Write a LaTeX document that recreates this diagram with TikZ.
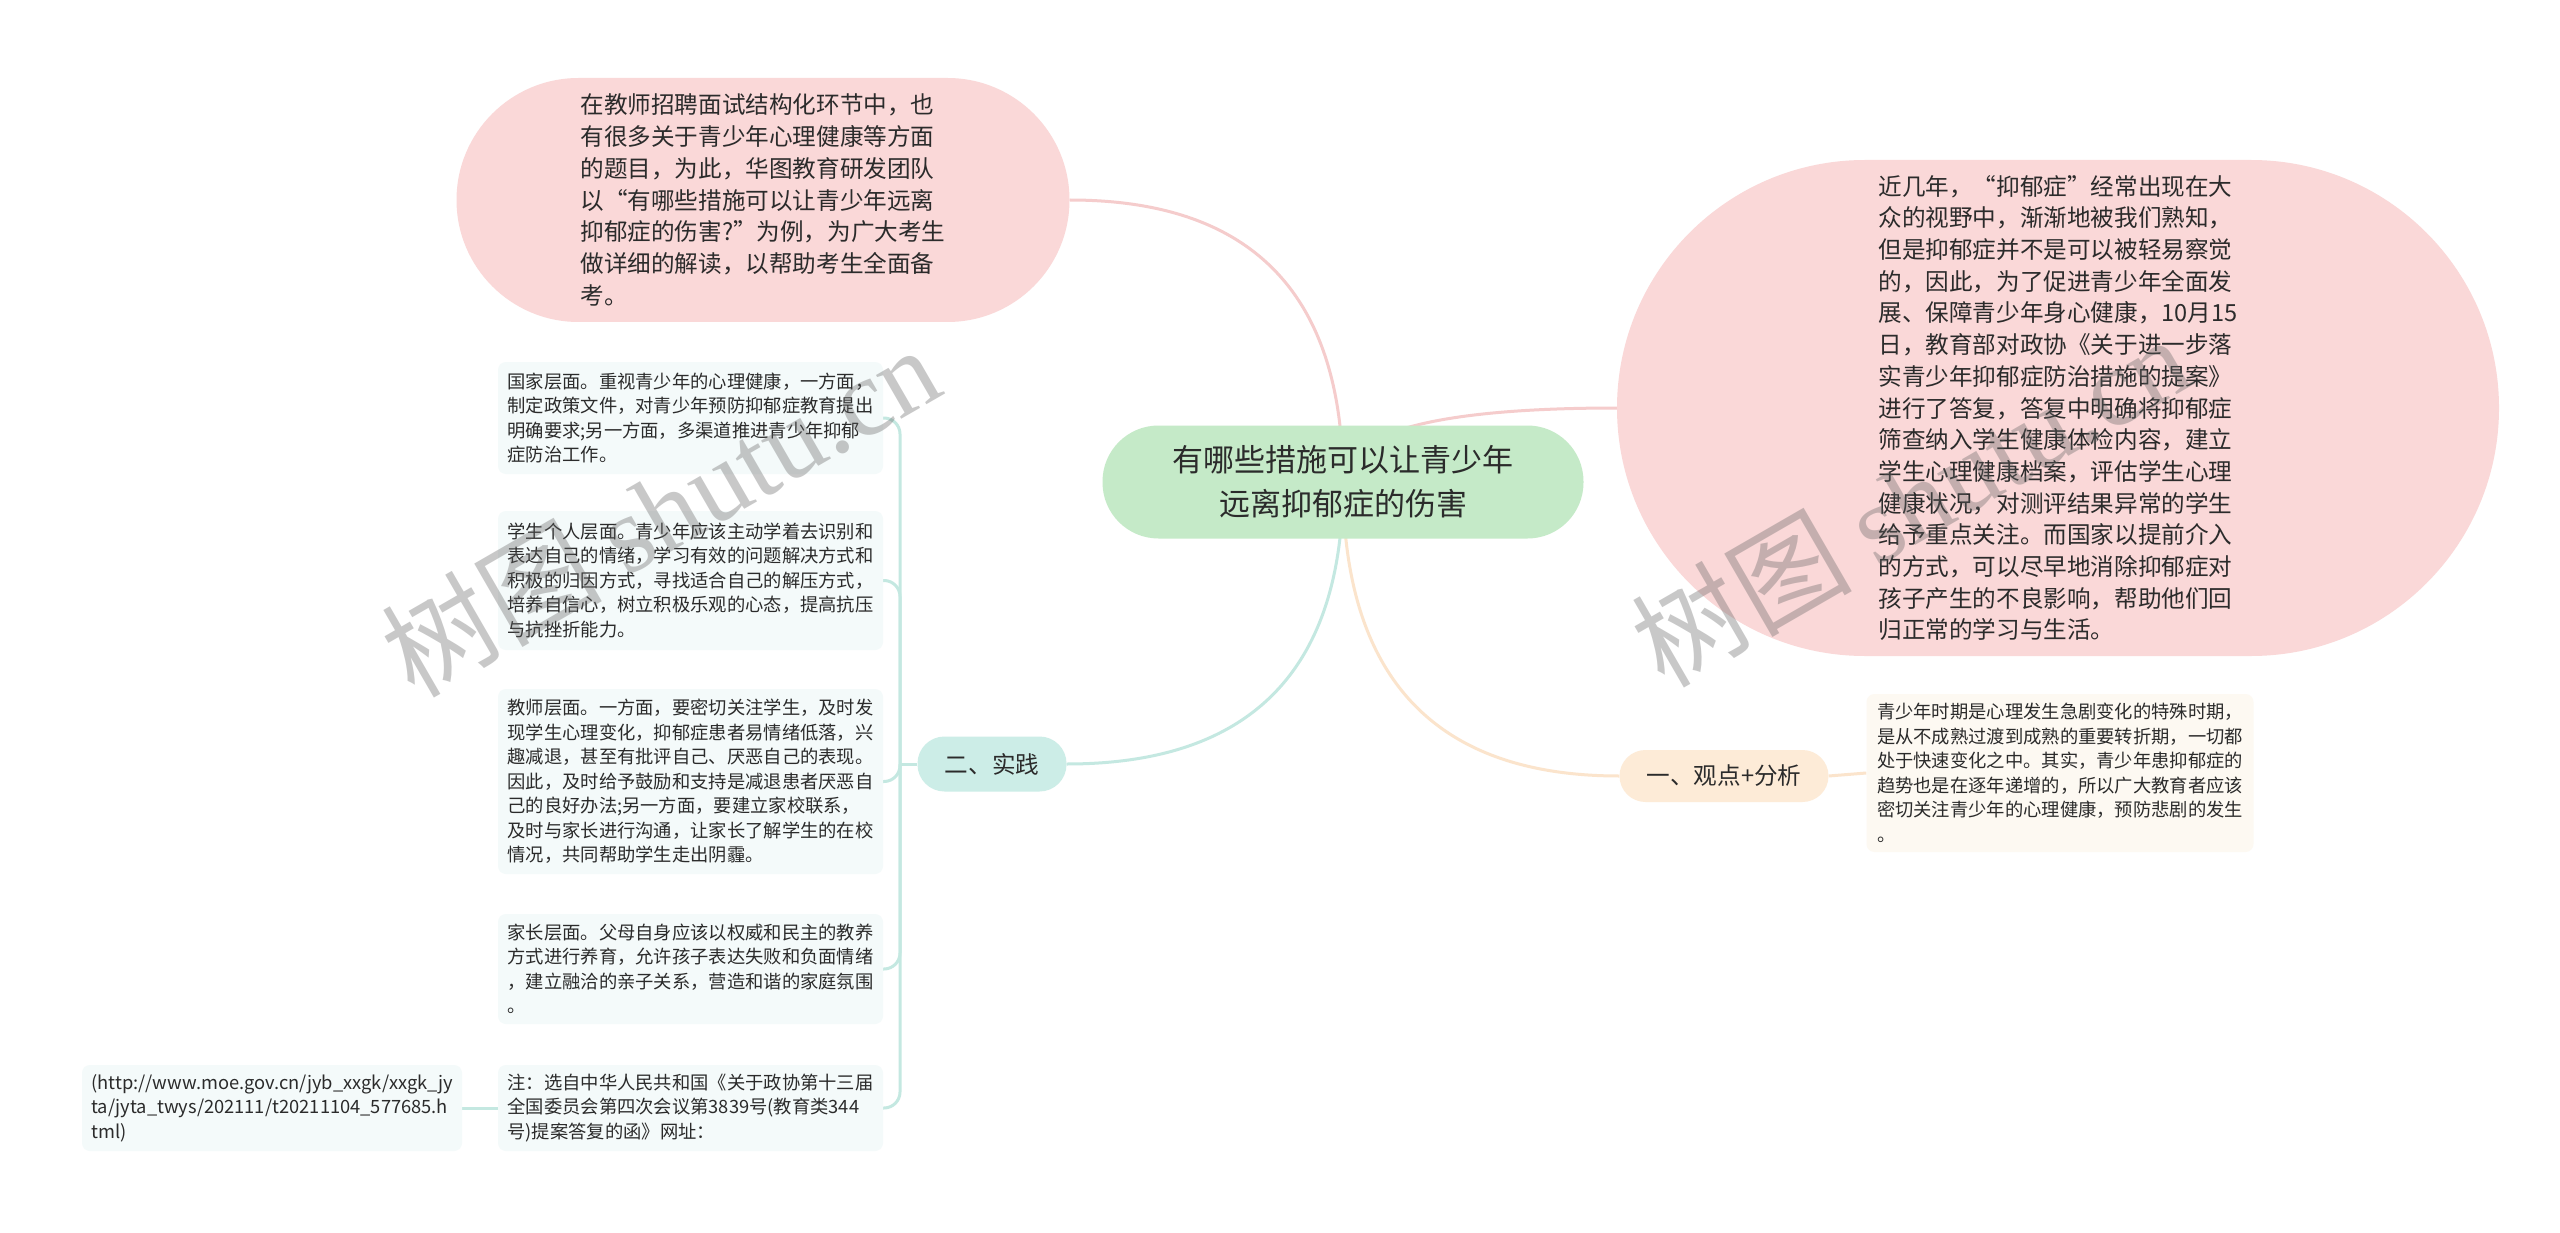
\documentclass[tikz,border=0pt]{standalone}
\usepackage{fontspec}
\setmainfont{Noto Sans CJK SC}
\newfontfamily\wmserif{Liberation Serif}
\usetikzlibrary{calc}
\definecolor{rootc}{HTML}{C5EAC8}
\definecolor{pinkc}{HTML}{FAD8D8}
\definecolor{pinkl}{HTML}{F5CCCC}
\definecolor{tealc}{HTML}{CCEDE7}
\definecolor{teall}{HTML}{C4E8E1}
\definecolor{peachc}{HTML}{FDEBD7}
\definecolor{peachl}{HTML}{FBE4CC}
\definecolor{boxc}{HTML}{F4FAFA}
\definecolor{boxo}{HTML}{FDF9F2}
\definecolor{txt}{HTML}{2B2B2B}
\definecolor{wmc}{HTML}{626262}
\pgfdeclarelayer{bg}
\pgfsetlayers{bg,main}
\tikzset{
  base/.style={rectangle, inner sep=0pt, text=txt},
  bigpill/.style={base, fill=pinkc, align=left, font=\fontsize{23.6}{31.7}\selectfont},
  branch/.style={base, align=center, font=\fontsize{23.6}{30}\selectfont},
  leaf/.style={base, rounded corners=8pt, align=left, minimum width=385pt, font=\fontsize{18.3}{24.5}\selectfont},
  conn/.style={line width=3pt},
  wm/.style={text=wmc, opacity=0.35, rotate=30, font=\fontsize{110}{110}\selectfont}
}
\begin{document}
\begin{tikzpicture}[x=1pt,y=-1pt]
\useasboundingbox (0,0) rectangle (2560,1233);
\begin{pgfonlayer}{bg}
\fill[white] (0,0) rectangle (2560,1233);
\end{pgfonlayer}

% root
\node[base, fill=rootc, rounded corners=56pt, minimum width=481pt, minimum height=113pt, align=center, font=\fontsize{31}{44}\selectfont] (root) at (1343,482) {有哪些措施可以让青少年\\远离抑郁症的伤害};

% top-left pink
\node[bigpill, rounded corners=122pt, minimum width=613pt, minimum height=244pt] (intro) at (763,200) {在教师招聘面试结构化环节中，也\\有很多关于青少年心理健康等方面\\的题目，为此，华图教育研发团队\\以“有哪些措施可以让青少年远离\\抑郁症的伤害?”为例，为广大考生\\做详细的解读，以帮助考生全面备\\考。};

% right pink
\node[bigpill, rounded corners=248pt, minimum width=882pt, minimum height=496pt] (news) at (2058,408) {近几年，“抑郁症”经常出现在大\\众的视野中，渐渐地被我们熟知，\\但是抑郁症并不是可以被轻易察觉\\的，因此，为了促进青少年全面发\\展、保障青少年身心健康，10月15\\日，教育部对政协《关于进一步落\\实青少年抑郁症防治措施的提案》\\进行了答复，答复中明确将抑郁症\\筛查纳入学生健康体检内容，建立\\学生心理健康档案，评估学生心理\\健康状况，对测评结果异常的学生\\给予重点关注。而国家以提前介入\\的方式，可以尽早地消除抑郁症对\\孩子产生的不良影响，帮助他们回\\归正常的学习与生活。};

% branches
\node[branch, fill=tealc, rounded corners=27pt, minimum width=149pt, minimum height=55pt] (practice) at (992,764) {二、实践};
\node[branch, fill=peachc, rounded corners=26pt, minimum width=209pt, minimum height=52pt] (view) at (1724,776) {一、观点+分析};

% view detail
\node[leaf, fill=boxo, minimum width=387pt, minimum height=158pt] (viewd) at (2060,773) {青少年时期是心理发生急剧变化的特殊时期，\\是从不成熟过渡到成熟的重要转折期，一切都\\处于快速变化之中。其实，青少年患抑郁症的\\趋势也是在逐年递增的，所以广大教育者应该\\密切关注青少年的心理健康，预防悲剧的发生\\。};

% practice leaves
\node[leaf, fill=boxc, minimum height=112pt] (d1) at (690.5,418) {国家层面。重视青少年的心理健康，一方面，\\制定政策文件，对青少年预防抑郁症教育提出\\明确要求;另一方面，多渠道推进青少年抑郁\\症防治工作。};
\node[leaf, fill=boxc, minimum height=139pt] (d2) at (690.5,580.5) {学生个人层面。青少年应该主动学着去识别和\\表达自己的情绪，学习有效的问题解决方式和\\积极的归因方式，寻找适合自己的解压方式，\\培养自信心，树立积极乐观的心态，提高抗压\\与抗挫折能力。};
\node[leaf, fill=boxc, minimum height=185pt] (d3) at (690.5,781.5) {教师层面。一方面，要密切关注学生，及时发\\现学生心理变化，抑郁症患者易情绪低落，兴\\趣减退，甚至有批评自己、厌恶自己的表现。\\因此，及时给予鼓励和支持是减退患者厌恶自\\己的良好办法;另一方面，要建立家校联系，\\及时与家长进行沟通，让家长了解学生的在校\\情况，共同帮助学生走出阴霾。};
\node[leaf, fill=boxc, minimum height=110pt] (d4) at (690.5,969) {家长层面。父母自身应该以权威和民主的教养\\方式进行养育，允许孩子表达失败和负面情绪\\，建立融洽的亲子关系，营造和谐的家庭氛围\\。};
\node[leaf, fill=boxc, minimum height=86pt] (d5) at (690.5,1108) {注：选自中华人民共和国《关于政协第十三届\\全国委员会第四次会议第3839号(教育类344\\号)提案答复的函》网址：};
\node[leaf, fill=boxc, minimum width=380pt, minimum height=86pt] (url) at (272,1108) {(http://www.moe.gov.cn/jyb\_xxgk/xxgk\_jy\\ta/jyta\_twys/202111/t20211104\_577685.h\\tml)};

% connectors
\coordinate (cI) at (root.center |- intro.east);
\coordinate (cN) at (root.center |- news.west);
\coordinate (cP) at (root.center |- practice.east);
\coordinate (cV) at (root.center |- view.west);
\coordinate (trunk) at (900,764);
\begin{pgfonlayer}{bg}
\draw[conn, pinkl] (root.center) .. controls ($(root.center)!0.667!(cI)$) and ($(intro.east)!0.667!(cI)$) .. (intro.east);
\draw[conn, pinkl] (root.center) .. controls ($(root.center)!0.667!(cN)$) and ($(news.west)!0.667!(cN)$) .. (news.west);
\draw[conn, teall] (root.center) .. controls ($(root.center)!0.667!(cP)$) and ($(practice.east)!0.667!(cP)$) .. (practice.east);
\draw[conn, peachl] (root.center) .. controls ($(root.center)!0.667!(cV)$) and ($(view.west)!0.667!(cV)$) .. (view.west);
\draw[conn, peachl] (view.east) -- (viewd.west);
\draw[conn, teall] (practice.west) -- (trunk);
\foreach \d in {d1,d2,d3,d4,d5}{
  \draw[conn, teall, rounded corners=16pt] (trunk) |- (\d.east);
}
\draw[conn, teall] (d5.west) -- (url.east);
\end{pgfonlayer}

% watermarks
\node[wm] (wm1) at (660,510) {树图 {\wmserif shutu.cn}};
\node[wm] (wm2) at (1910,500) {树图 {\wmserif shutu.cn}};
\end{tikzpicture}
\end{document}
